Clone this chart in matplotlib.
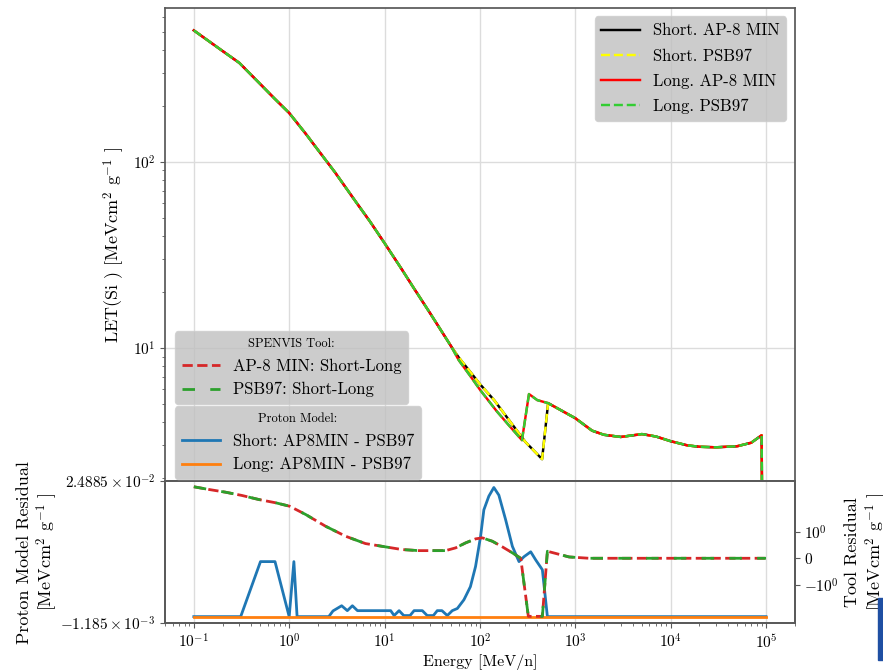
import numpy as np
import matplotlib
matplotlib.use('Agg')
import matplotlib.pyplot as plt
from matplotlib.ticker import NullFormatter, NullLocator
from matplotlib.patches import Rectangle

## LET curves (MeV cm^2 / g)
energy_common = [0.1, 0.2, 0.3, 0.5, 0.7, 1.0, 1.5, 2.0, 3.0, 5.0, 7.0, 10.0, 15.0, 20.0, 30.0, 50.0]
let_common = [508, 394, 340, 261, 219, 183, 141, 116, 88.3, 61, 48, 36.6, 26.7, 21.2, 15.4, 10.2]

energy_short_mid = [60, 80, 100, 141, 200, 300, 400, 449, 519]
let_short_mid = [8.9, 7.4, 6.4, 5.25, 4.13, 3.13, 2.69, 2.53, 5.06]

energy_long_mid = [60, 80, 100, 150, 200, 276, 327, 400, 519]
let_long_mid = [8.61, 7.03, 5.98, 4.58, 3.86, 3.2, 5.66, 5.25, 5.06]

energy_tail = [1000, 1500, 2000, 3000, 5000, 7000, 1e4, 1.5e4, 2e4, 3e4, 5e4, 7e4, 9e4, 1e5]
let_tail = [4.2, 3.6, 3.42, 3.33, 3.45, 3.35, 3.16, 3.0, 2.95, 2.93, 2.97, 3.1, 3.4, 1e-3]

energy_short = energy_common + energy_short_mid + energy_tail
let_short_ap8 = let_common + let_short_mid + let_tail
let_short_psb = let_common + let_short_mid + let_tail
energy_long = energy_common + energy_long_mid + energy_tail
let_long_ap8 = let_common + let_long_mid + let_tail
let_long_psb = let_common + let_long_mid + let_tail

## Tool residual (right axis, symlog)
energy_tool = [0.1, 0.144, 0.215, 0.32, 0.48, 0.72, 1.01, 1.49, 2.41, 3.91, 6.3, 10.2, 15.3, 23,
               43.6, 55.7, 70.9, 90.3, 106, 135, 172, 219, 268, 322, 452, 510, 861, 1400, 1e4, 1e5]
tool_ap8 = [79.8, 61.4, 47.2, 34.3, 23.2, 16.9, 12.1, 5.41, 1.73, 0.835, 0.558, 0.433, 0.33, 0.29,
            0.29, 0.395, 0.585, 0.737, 0.775, 0.646, 0.433, 0.205, 0.0, -21.7, -21.7, 0.266, 0.05, 0.0, 0.0, 0.0]
tool_psb = list(tool_ap8)

## Proton model residual (left axis)
energy_model = [0.1, 0.31, 0.5, 0.71, 1.0, 1.12, 1.21, 2.6, 2.88, 3.55, 4.07, 4.6, 5.2, 11.6, 12.6,
                14.2, 15.9, 18.5, 20.4, 24.9, 28, 32.5, 35.7, 40, 45.5, 51.3, 58, 68, 79.5, 90,
                101.6, 110, 124, 140, 158, 186, 219, 257, 290, 341, 385, 452, 510, 1e5]
model_short = [0, 0, 0.0101, 0.0101, 0, 0.0101, 0, 0, 0.00105, 0.002, 0.0011, 0.002, 0.0011, 0.0011, 0.0002,
               0.0011, 0.0002, 0.0002, 0.0011, 0.0011, 0.0002, 0.0002, 0.0011, 0.0011, 0.0002, 0.0011, 0.0015,
               0.0031, 0.0055, 0.0092, 0.0147, 0.0196, 0.0221, 0.0237, 0.0223, 0.0178, 0.0129, 0.0101,
               0.011, 0.0119, 0.0104, 0.0086, 0.0, 0.0]
energy_model_long = [0.1, 1e5]
model_long = [0.0, 0.0]

plt.rcParams['font.family'] = 'serif'
plt.rcParams['font.serif'] = ['cmr10']
plt.rcParams['mathtext.fontset'] = 'cm'
plt.rcParams['axes.formatter.use_mathtext'] = True
plt.rcParams['axes.unicode_minus'] = False
plt.rcParams['font.size'] = 12
plt.rcParams['xtick.labelsize'] = 11
plt.rcParams['ytick.labelsize'] = 11
plt.rcParams['axes.edgecolor'] = '0.35'
plt.rcParams['axes.linewidth'] = 1.25
plt.rcParams['xtick.color'] = '0.35'
plt.rcParams['ytick.color'] = '0.35'
plt.rcParams['xtick.labelcolor'] = 'black'
plt.rcParams['ytick.labelcolor'] = 'black'

fig = plt.figure(figsize=(8.83, 6.70), dpi=100)
ax = fig.add_axes([0.187, 0.282, 0.713, 0.706])
axr = fig.add_axes([0.187, 0.070, 0.713, 0.212], sharex=ax)
axt = axr.twinx()

## top panel
ax.plot(energy_short, let_short_ap8, color='black', lw=1.75, label='Short. AP-8 MIN')
ax.plot(energy_short, let_short_psb, color='yellow', ls='--', lw=1.75, label='Short. PSB97')
ax.plot(energy_long, let_long_ap8, color='red', lw=1.75, label='Long. AP-8 MIN')
ax.plot(energy_long, let_long_psb, color='limegreen', ls='--', lw=1.75, label='Long. PSB97')
ax.set_xscale('log')
ax.set_yscale('log')
ax.set_xlim(0.05, 2.0e5)
ax.set_ylim(1.93, 670)
ax.yaxis.set_minor_formatter(NullFormatter())
ax.tick_params(axis='x', which='both', length=0, labelbottom=False)
ax.grid(True, which='major', color='#dcdcdc', lw=1)
ax.set_ylabel(r'LET(Si ) [MeVcm$^2$ g$^{-1}$ ]', fontsize=13)
ax.legend(loc='upper right', facecolor='silver', fontsize=12, labelspacing=0.6, handlelength=2.3)

## bottom panel: proton model residual
l_short, = axr.plot(energy_model, model_short, color='tab:blue', lw=2)
l_long, = axr.plot(energy_model_long, model_long, color='tab:orange', lw=2)
axr.set_ylim(-1.185e-3, 2.4885e-2)
axr.set_yticks([-1.185e-3, 2.4885e-2])
axr.set_yticklabels([r'$-1.185\times10^{-3}$', r'$2.4885\times10^{-2}$'])
axr.yaxis.set_minor_locator(NullLocator())
axr.grid(True, axis='x', which='major', color='#dcdcdc', lw=1)
axr.set_xlabel('Energy [MeV/n]', fontsize=11.5, labelpad=2)
axr.set_ylabel('Proton Model Residual\n' + r'[MeVcm$^2$ g$^{-1}$ ]', fontsize=13, labelpad=0)

## bottom panel: tool residual
t_ap8, = axt.plot(energy_tool, tool_ap8, color='tab:red', ls='--', lw=2)
t_psb, = axt.plot(energy_tool, tool_psb, color='tab:green', ls=(0, (4.5, 5.5)), lw=2)
axt.set_yscale('symlog', linthresh=1)
axt.set_ylim(-41.8, 139)
axt.set_yticks([-1, 0, 1])
axt.set_yticklabels([r'$-10^{0}$', r'$0$', r'$10^{0}$'])
axt.yaxis.set_minor_locator(NullLocator())
axt.set_ylabel('Tool Residual\n' + r'[MeVcm$^2$ g$^{-1}$ ]', fontsize=13)

fig.legend([t_ap8, t_psb], ['AP-8 MIN: Short-Long', 'PSB97: Short-Long'],
           title='SPENVIS Tool:', title_fontsize=9, fontsize=12, handlelength=2.3,
           loc='lower left', bbox_to_anchor=(0.198, 0.397), borderaxespad=0, facecolor='silver')
fig.legend([l_short, l_long], ['Short: AP8MIN - PSB97', 'Long: AP8MIN - PSB97'],
           title='Proton Model:', title_fontsize=9, fontsize=12, handlelength=2.3,
           loc='lower left', bbox_to_anchor=(0.198, 0.285), borderaxespad=0, facecolor='silver')

fig.add_artist(Rectangle((878 / 883, 1 - 660 / 670), 5 / 883, 62 / 670,
                         transform=fig.transFigure, color='#1f4fa3'))

fig.savefig('out.png', dpi=100)
